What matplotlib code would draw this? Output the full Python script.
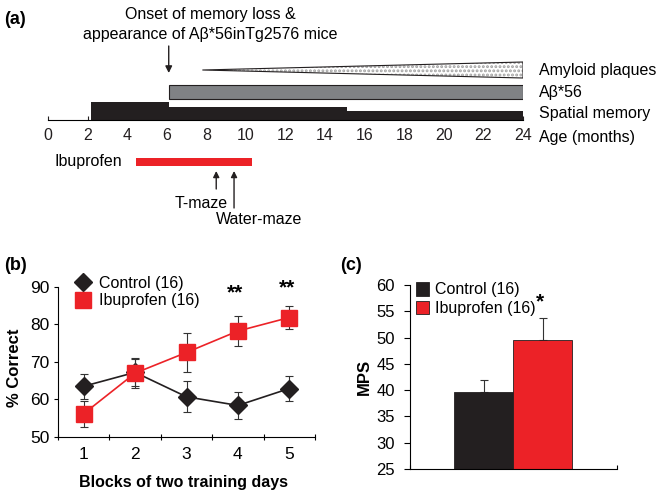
import numpy as np
import matplotlib
matplotlib.use("Agg")
import matplotlib.pyplot as plt
from matplotlib.patches import Polygon, Rectangle
from matplotlib.lines import Line2D

plt.rcParams['font.family'] = ['Liberation Sans', 'DejaVu Sans']
plt.rcParams['hatch.linewidth'] = 1.4

RED = '#ec2227'
BLACK = '#231f20'
GRAY = '#808285'

# panel (a) timeline (months)
age_ticks = list(range(0, 25, 2))
memory_start = [2.15, 6.1, 15.1]
memory_end = [6.1, 15.1, 24.1]
memory_level = [18, 13, 9]          # relative bar thickness
abeta_start, abeta_end = 6.1, 24.0
plaque_start, plaque_end = 7.8, 24.0
onset_month = 6.1
ibuprofen_start, ibuprofen_end = 4.45, 10.3
tmaze_month = 8.5
watermaze_month = 9.4

# panel (b) T-maze
blocks = [1, 2, 3, 4, 5]
control_pct = [63.5, 67.2, 60.7, 58.4, 62.9]
control_err = [3.3, 3.6, 4.1, 3.5, 3.3]
ibu_pct = [56.2, 67.0, 72.5, 78.2, 81.8]
ibu_err = [3.5, 4.0, 5.2, 3.9, 3.0]
sig_blocks = [4, 5]
sig_y = [88.4, 89.7]

# panel (c) water maze
groups = ['Control (16)', 'Ibuprofen (16)']
mps = [39.6, 49.6]
mps_err = [2.4, 4.2]

W, H = 663, 494
fig = plt.figure(figsize=(W / 100, H / 100), dpi=100)


def box(l, t, r, b):
    return [l / W, 1 - b / H, (r - l) / W, (b - t) / H]


FS_A = 11.5

# ---------------- (a) ----------------
ax = fig.add_axes(box(48, 0, 523, 250))
ax.set_xlim(0, 24)
ax.set_ylim(250, 0)
for s in ['top', 'left', 'right']:
    ax.spines[s].set_visible(False)
ax.spines['bottom'].set_position(('data', 120))
ax.spines['bottom'].set_linewidth(0.8)
ax.set_yticks([])
ax.set_xticks(age_ticks)
ax.tick_params(axis='x', direction='in', length=3, width=0.8, pad=6,
               labelsize=FS_A, colors=BLACK)

widths = np.array(memory_end) - np.array(memory_start)
ax.bar(memory_start, -np.array(memory_level), width=widths, bottom=120,
       align='edge', color=BLACK, edgecolor=BLACK, linewidth=0)
ax.add_patch(Rectangle((abeta_start, 85), abeta_end - abeta_start, 14,
                       facecolor=GRAY, edgecolor=BLACK, linewidth=0.8))
tri = [[plaque_start, 70], [plaque_end, 62], [plaque_end, 78]]
ax.add_patch(Polygon(tri, closed=True, facecolor='white', edgecolor='#a0a0a0',
                     hatch='....', linewidth=0))
ax.add_patch(Polygon(tri, closed=True, fill=False, edgecolor=BLACK,
                     linewidth=0.8))

ax.text(24.8, 70, 'Amyloid plaques', fontsize=FS_A, va='center', ha='left')
ax.text(24.8, 92, 'Aβ*56', fontsize=FS_A, va='center', ha='left')
ax.text(24.8, 113, 'Spatial memory', fontsize=FS_A, va='center', ha='left')
ax.text(24.8, 137, 'Age (months)', fontsize=FS_A, va='center', ha='left')
ax.text(8.18, 15, 'Onset of memory loss &', fontsize=FS_A, ha='center', va='center')
ax.text(8.18, 34, 'appearance of Aβ*56inTg2576 mice', fontsize=FS_A,
        ha='center', va='center')
ax.annotate('', xy=(onset_month, 73), xytext=(onset_month, 46),
            arrowprops=dict(arrowstyle='-|>', color=BLACK, lw=1,
                            mutation_scale=10, shrinkA=0, shrinkB=0))

ax.add_patch(Rectangle((ibuprofen_start, 158), ibuprofen_end - ibuprofen_start, 8,
                       facecolor=RED, edgecolor='none'))
ax.text(2.02, 161, 'Ibuprofen', fontsize=FS_A, ha='center', va='center')
ax.annotate('', xy=(tmaze_month, 171), xytext=(tmaze_month, 189),
            arrowprops=dict(arrowstyle='-|>', color=BLACK, lw=1,
                            mutation_scale=9, shrinkA=0, shrinkB=0))
ax.annotate('', xy=(watermaze_month, 171), xytext=(watermaze_month, 208),
            arrowprops=dict(arrowstyle='-|>', color=BLACK, lw=1,
                            mutation_scale=9, shrinkA=0, shrinkB=0))
ax.text(7.73, 203, 'T-maze', fontsize=FS_A, ha='center', va='center')
ax.text(10.66, 219, 'Water-maze', fontsize=FS_A, ha='center', va='center')

fig.text(4 / W, 1 - 20 / H, '(a)', fontsize=13, va='center', ha='left',
         fontweight='bold')

# ---------------- (b) ----------------
axb = fig.add_axes(box(58, 286.7, 315, 437))
axb.errorbar(blocks, control_pct, yerr=control_err, fmt='-D', color=BLACK,
             ms=9, lw=1.2, ecolor='#333333', elinewidth=0.8, capsize=3,
             capthick=0.8, zorder=3)
axb.errorbar(blocks, ibu_pct, yerr=ibu_err, fmt='-s', color=RED, ms=12,
             lw=1.2, ecolor='#333333', elinewidth=0.8, capsize=3,
             capthick=0.8, zorder=4)
for xb, yb in zip(sig_blocks, sig_y):
    axb.text(xb - 0.05, yb, '**', fontsize=15, fontweight='bold',
             ha='center', va='center')
axb.set_xlim(0.5, 5.5)
axb.set_ylim(50, 90)
axb.set_yticks([50, 60, 70, 80, 90])
axb.set_xticks(blocks)
axb.set_xticks(np.arange(0.5, 6, 1), minor=True)
axb.tick_params(axis='x', which='major', length=0, pad=7, labelsize=12.5)
axb.tick_params(axis='x', which='minor', direction='inout', length=5, width=0.8)
axb.tick_params(axis='y', direction='out', length=3, width=0.8, pad=3,
                labelsize=12.5)
for s in ['top', 'right']:
    axb.spines[s].set_visible(False)
for s in ['left', 'bottom']:
    axb.spines[s].set_linewidth(0.8)
axb.set_ylabel('% Correct', fontsize=12, fontweight='bold')
axb.yaxis.set_label_coords(-0.14, 0.46)
axb.set_xlabel('Blocks of two training days', fontsize=11.5, fontweight='bold')
axb.xaxis.set_label_coords(0.49, -0.25)
hb = [Line2D([], [], marker='D', ls='none', color=BLACK, ms=9),
      Line2D([], [], marker='s', ls='none', color=RED, ms=11)]
axb.legend(hb, ['Control (16)', 'Ibuprofen (16)'], loc='center left',
           bbox_to_anchor=(75 / W, 1 - 292 / H), bbox_transform=fig.transFigure,
           frameon=False, fontsize=11.5, handlelength=1, handletextpad=0.5,
           labelspacing=0.15, borderpad=0, borderaxespad=0)
fig.text(4 / W, 1 - 266 / H, '(b)', fontsize=13, va='center', ha='left',
         fontweight='bold')

# ---------------- (c) ----------------
axc = fig.add_axes(box(410, 285, 617, 469))
xpos = [0, 1]
bars = axc.bar(xpos, mps, width=1, color=[BLACK, RED], edgecolor=BLACK,
               linewidth=0.6, label=groups, zorder=2)
axc.errorbar(xpos, mps, yerr=[[0, 0], mps_err], fmt='none', ecolor='#333333',
             elinewidth=0.8, capsize=3, capthick=0.8, zorder=1)
axc.text(0.96, 56.8, '*', fontsize=15, fontweight='bold', ha='center',
         va='center')
axc.set_xlim(-1.25, 2.26)
axc.set_ylim(25, 60)
axc.set_yticks(range(25, 61, 5))
axc.set_xticks([-1.25, 2.26])
axc.set_xticklabels([])
axc.tick_params(axis='x', direction='in', length=3, width=0.8)
axc.tick_params(axis='y', direction='out', length=4, width=0.8, pad=7,
                labelsize=12)
for s in ['top', 'right']:
    axc.spines[s].set_visible(False)
for s in ['left', 'bottom']:
    axc.spines[s].set_linewidth(0.8)
axc.set_ylabel('MPS', fontsize=12, fontweight='bold')
axc.yaxis.set_label_coords(-0.184, 0.5)
axc.legend(bars, groups, loc='center left',
           bbox_to_anchor=(416 / W, 1 - 299 / H), bbox_transform=fig.transFigure,
           frameon=False, fontsize=11.5, handlelength=0.8, handleheight=0.9,
           handletextpad=0.4, labelspacing=0.2, borderpad=0, borderaxespad=0)
fig.text(340 / W, 1 - 266 / H, '(c)', fontsize=13, va='center', ha='left',
         fontweight='bold')

fig.savefig('out.png', dpi=100)
